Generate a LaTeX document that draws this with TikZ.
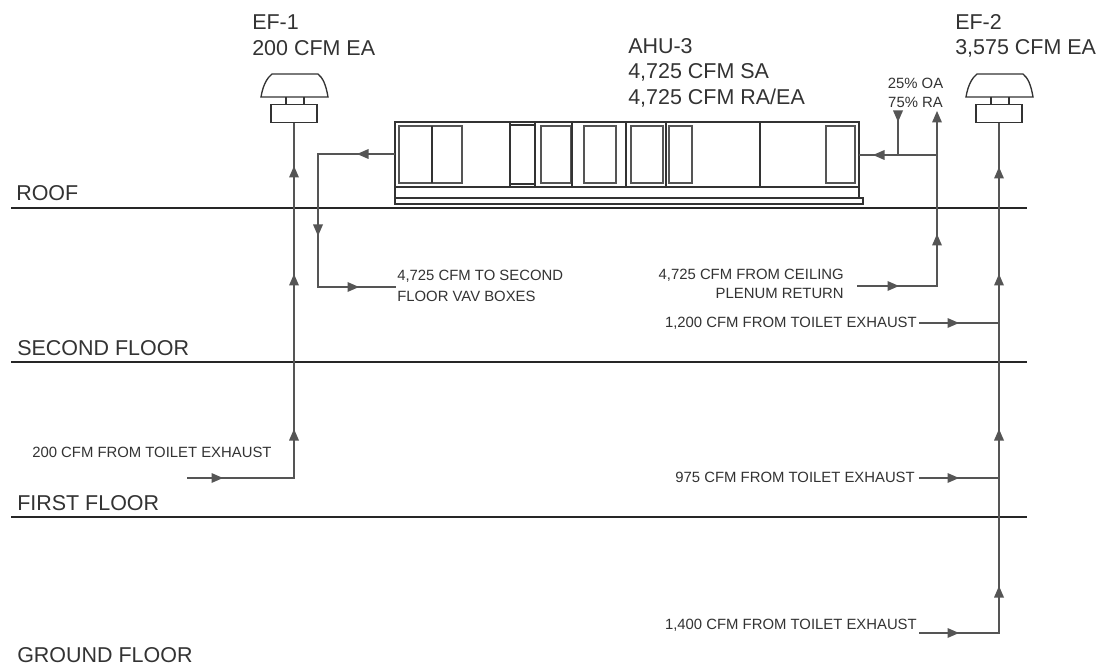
\documentclass[tikz,border=0pt]{standalone}
\usepackage{fontspec}
\setmainfont{Liberation Sans}
\definecolor{ink}{HTML}{333333}
\definecolor{pipe}{HTML}{555555}
\newcommand{\bigfont}{\fontsize{16.1}{18}\selectfont}
\newcommand{\smallfont}{\fontsize{11.15}{12}\selectfont}
\tikzset{
  x=0.75pt,y=-0.75pt,
  floorline/.style={draw=black!85,line width=1.1pt},
  pipeline/.style={draw=pipe,line width=1.4pt},
  thinbox/.style={draw=ink,line width=1pt},
  inset/.style={draw=pipe,line width=1.2pt},
  part/.style={draw=black!80,line width=1pt},
  bigtext/.style={inner sep=0pt,anchor=west,text=ink,font=\bigfont},
  smalltext/.style={inner sep=0pt,text=ink,font=\smallfont},
  flowhead/.style={fill=pipe,draw=none},
}
% arrow head centred at a point: #1 point, #2 rotation
\newcommand{\flow}[2]{\fill[flowhead,shift={#1},rotate=#2] (0,-6) -- (5,5.5) -- (-5,5.5) -- cycle;}
\newcommand{\fan}[2]{%
  \draw[thinbox] (#1-33,97) .. controls (#1-31,85) and (#1-27,78) .. (#1-22,74) -- (#1+24,74) .. controls (#1+29,78) and (#1+32,85) .. (#1+34,97) -- cycle;
  \draw[thinbox] (#1-8,97) -- (#1-8,105) (#1+10,97) -- (#1+10,105);
  \node[draw=ink,line width=1pt,minimum width=34.5pt,minimum height=13.5pt,inner sep=0pt] (#2) at (#1,113.5) {};
}
\begin{document}
\begin{tikzpicture}
\useasboundingbox (0,0) rectangle (1106,670);
\fill[white] (0,0) rectangle (1106,670);
% floors
\coordinate (rl) at (11,208); \coordinate (rr) at (1027,208);
\coordinate (sl) at (11,362); \coordinate (sr) at (1027,362);
\coordinate (fl) at (11,517); \coordinate (fr) at (1027,517);
\draw[floorline] (rl) -- (rr);
\draw[floorline] (sl) -- (sr);
\draw[floorline] (fl) -- (fr);
\node[bigtext] (roof) at (16,193) {ROOF};
\node[bigtext] (second) at (17,348) {SECOND FLOOR};
\node[bigtext] (first) at (17,503) {FIRST FLOOR};
\node[bigtext] (ground) at (17,655) {GROUND FLOOR};
% fans
\fan{294}{ef1}
\fan{999}{ef2}
\node[bigtext] (ef1a) at (252,22) {EF-1};
\node[bigtext] (ef1b) at (252,48) {200 CFM EA};
\node[bigtext] (ef2a) at (955,22) {EF-2};
\node[bigtext] (ef2b) at (955,48) {3,575 CFM EA};
\node[bigtext] (ahua) at (628,46) {AHU-3};
\node[bigtext] (ahub) at (628,72) {4,725 CFM SA};
\node[bigtext] (ahuc) at (628,98) {4,725 CFM RA/EA};
% AHU
\draw[thinbox] (395,122) rectangle (859,198);
\draw[thinbox] (395,198) rectangle (863,204);
\draw[part] (395,187) -- (859,187);
\foreach \a/\b in {399/431.5,432.5/462,541/571,584/616,631/663,669/692,826/855}
  \draw[inset] (\a,126) rectangle (\b,183);
\draw[part,line width=1.5pt] (432,126) -- (432,183);
\draw[part] (510,122) -- (510,187) (535,122) -- (535,187);
\draw[part] (510,125) -- (535,125) (510,184) -- (535,184);
\draw[part,line width=1.5pt] (572,122) -- (572,187);
\draw[part] (626,122) -- (626,187);
\draw[part,line width=1.5pt] (665.5,122) -- (665.5,187);
\draw[part] (760,122) -- (760,187);
% coordinates
\coordinate (ahuL) at (395,154);
\coordinate (ahuR) at (859,155);
\coordinate (s1) at (318,154);
\coordinate (s2) at (318,287);
\coordinate (s3) at (396,287);
\coordinate (e1a) at (294,478);
\coordinate (e1b) at (187,478);
\coordinate (r1) at (937,286);
\coordinate (r2) at (857,286);
\coordinate (r3) at (937,122);
\coordinate (rj) at (937,155);
\coordinate (o1) at (898,155);
\coordinate (o2) at (898,111);
\coordinate (e2a) at (999,633);
\coordinate (e2b) at (919,633);
\coordinate (b1a) at (999,323);
\coordinate (b1b) at (919,323);
\coordinate (b2a) at (999,478);
\coordinate (b2b) at (919,478);
% pipes
\draw[pipeline] (ef1.south) -- (e1a) -- (e1b);
\draw[pipeline] (ef2.south) -- (e2a) -- (e2b);
\draw[pipeline] (ahuL) -- (s1) -- (s2) -- (s3);
\draw[pipeline] (r2) -- (r1) -- (r3);
\draw[pipeline] (rj) -- (ahuR);
\draw[pipeline] (o1) -- (o2);
\draw[pipeline] (b1b) -- (b1a);
\draw[pipeline] (b2b) -- (b2a);
% arrowheads
\flow{(294,172)}{0}\flow{(294,280)}{0}\flow{(294,435)}{0}
\flow{(217,478)}{-90}
\flow{(363,154)}{90}\flow{(318,230)}{180}\flow{(353,287)}{-90}
\flow{(999,173)}{0}\flow{(999,280)}{0}\flow{(999,435)}{0}\flow{(999,592)}{0}
\flow{(953,323)}{-90}\flow{(953,478)}{-90}\flow{(953,633)}{-90}
\flow{(893,286)}{-90}\flow{(937,240)}{0}\flow{(937,117)}{0}
\flow{(898,116)}{180}\flow{(879,155)}{90}
% small labels
\node[smalltext,anchor=west] (l200) at (32,452) {200 CFM FROM TOILET EXHAUST};
\node[smalltext,anchor=west] (lto1) at (397,276) {4,725 CFM TO SECOND};
\node[smalltext,anchor=west] (lto2) at (397,296) {FLOOR VAV BOXES};
\node[smalltext,anchor=east] (lfr1) at (844,275) {4,725 CFM FROM CEILING};
\node[smalltext,anchor=east] (lfr2) at (844,293) {PLENUM RETURN};
\node[smalltext,anchor=east] (l12) at (917,323) {1,200 CFM FROM TOILET EXHAUST};
\node[smalltext,anchor=east] (l97) at (915,477) {975 CFM FROM TOILET EXHAUST};
\node[smalltext,anchor=east] (l14) at (917,625) {1,400 CFM FROM TOILET EXHAUST};
\node[smalltext] (oa) at (915.5,83) {25\% OA};
\node[smalltext] (ra) at (915.5,102) {75\% RA};
\end{tikzpicture}
\end{document}
